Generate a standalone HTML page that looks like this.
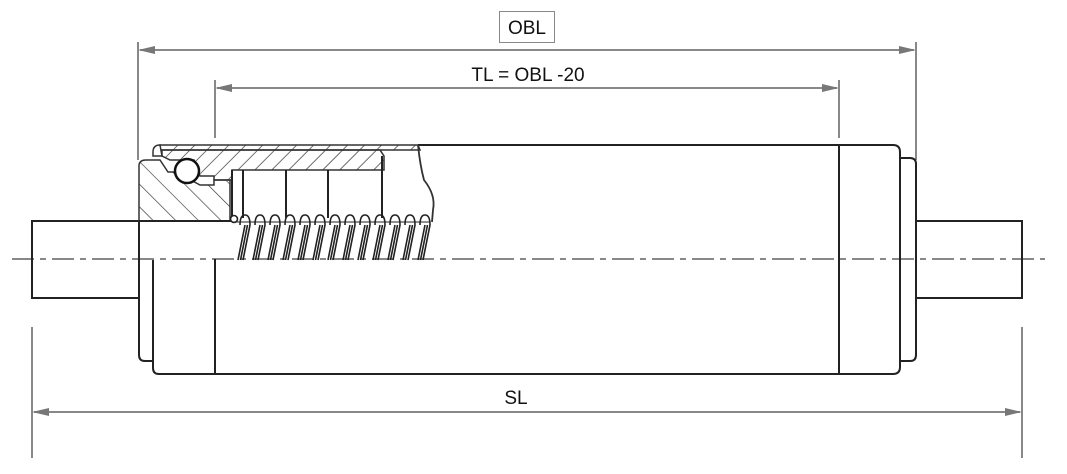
<!DOCTYPE html>
<html><head><meta charset="utf-8"><style>
html,body{margin:0;padding:0;background:#fff;width:1067px;height:474px;overflow:hidden}
svg{display:block}
text{font-family:"Liberation Sans",sans-serif;fill:#111}
</style></head><body>
<svg width="1067" height="474" viewBox="0 0 1067 474" xmlns="http://www.w3.org/2000/svg">
<defs>
<pattern id="h" width="12" height="12" patternUnits="userSpaceOnUse" patternTransform="rotate(45)">
<line x1="0" y1="0" x2="0" y2="12" stroke="#333" stroke-width="1.4"/></pattern>
<pattern id="h2" width="16" height="16" patternUnits="userSpaceOnUse" patternTransform="rotate(-45)">
<line x1="0" y1="0" x2="0" y2="16" stroke="#333" stroke-width="1.3"/></pattern>
</defs>
<!-- centerline -->
<line x1="12" y1="259" x2="1045" y2="259" stroke="#888" stroke-width="2" stroke-dasharray="22,6,6,6"/>
<!-- dimension lines -->
<g stroke="#888" stroke-width="2" fill="none">
<line x1="138" y1="42" x2="138" y2="160"/>
<line x1="916" y1="42" x2="916" y2="160"/>
<line x1="215" y1="80" x2="215" y2="138"/>
<line x1="839" y1="80" x2="839" y2="138"/>
<line x1="32" y1="327" x2="32" y2="458"/>
<line x1="1022" y1="327" x2="1022" y2="458"/>
<line x1="140" y1="50" x2="914" y2="50"/>
<line x1="217" y1="88" x2="837" y2="88"/>
<line x1="34" y1="412" x2="1020" y2="412"/>
</g>
<g fill="#777">
<polygon points="138,50 155,46 155,54"/><polygon points="916,50 899,46 899,54"/>
<polygon points="215,88 232,84 232,92"/><polygon points="839,88 822,84 822,92"/>
<polygon points="32,412 49,408 49,416"/><polygon points="1022,412 1005,408 1005,416"/>
</g>
<rect x="499.5" y="11.5" width="55" height="31" fill="none" stroke="#888" stroke-width="1"/>
<text x="527" y="34" font-size="19" text-anchor="middle">OBL</text>
<text x="528" y="81" font-size="19" text-anchor="middle">TL = OBL -20</text>
<text x="516" y="404" font-size="19" text-anchor="middle">SL</text>
<!-- body outlines -->
<g stroke="#222" stroke-width="2" fill="none">
<path d="M139 221 H32 V298 H139"/>
<path d="M916 221 H1022 V298 H916"/>
<path d="M139 221 V355 Q139 361 145 361 H153"/>
<path d="M900 158 H910 Q916 158 916 164 V355 Q916 361 910 361 H900"/>
<path d="M153 260 V368 Q153 374 159 374 H893 Q900 374 900 367 V152 Q900 145 893 145 H418"/>
<line x1="215" y1="259" x2="215" y2="374"/>
<line x1="839" y1="145" x2="839" y2="374"/>
</g>
<!-- section: tube shell -->
<path d="M160 145 H418 L420 150 H160 Z" fill="url(#h)" stroke="#333" stroke-width="1.5"/>
<path d="M160 145 Q153 145 153 152 V156 H162 Z" fill="#fff" stroke="#333" stroke-width="1.5"/>
<!-- housing -->
<path d="M162 150 H380 L384 156 V170 H232 V180 H214 V176 H200 L194 160 H170 L162 156 Z" fill="url(#h)" stroke="#333" stroke-width="1.5"/>
<!-- seal body -->
<path d="M139 221 V166 Q139 160 146 160 H160 L168 172 H176 L200 185 H214 V180 H230 V221 Z" fill="url(#h2)" stroke="#333" stroke-width="1.5"/>
<circle cx="187" cy="171" r="12" fill="#fff" stroke="#111" stroke-width="2.5"/>
<!-- break line -->
<path d="M418 145 Q420 165 424 180 Q436 195 433 210 L432 222" fill="none" stroke="#333" stroke-width="1.8"/>
<!-- inner walls -->
<g stroke="#222" stroke-width="2">
<line x1="232" y1="170" x2="232" y2="218"/>
<line x1="243" y1="170" x2="243" y2="218"/>
<line x1="286" y1="170" x2="286" y2="218"/>
<line x1="328" y1="170" x2="328" y2="218"/>
<line x1="382" y1="156" x2="382" y2="218"/>
<line x1="139" y1="221" x2="233" y2="221"/>
</g>
<!-- spring -->
<g stroke="#222" stroke-width="1.6" fill="#fff">
<circle cx="234" cy="219" r="3.5"/>
<g id="coil">
<path d="M240 225 Q240 215 245 215 Q250 215 250 225 L243 260 M245 225 L238 260 M247.5 225 L240.5 260" fill="none"/>
</g>
<use href="#coil" x="15"/><use href="#coil" x="30"/><use href="#coil" x="45"/>
<use href="#coil" x="60"/><use href="#coil" x="75"/><use href="#coil" x="90"/>
<use href="#coil" x="105"/><use href="#coil" x="120"/><use href="#coil" x="135"/>
<use href="#coil" x="150"/><use href="#coil" x="165"/><use href="#coil" x="180"/>
<line x1="232" y1="222" x2="430" y2="222" stroke-width="1"/>
</g>
</svg>
</body></html>
